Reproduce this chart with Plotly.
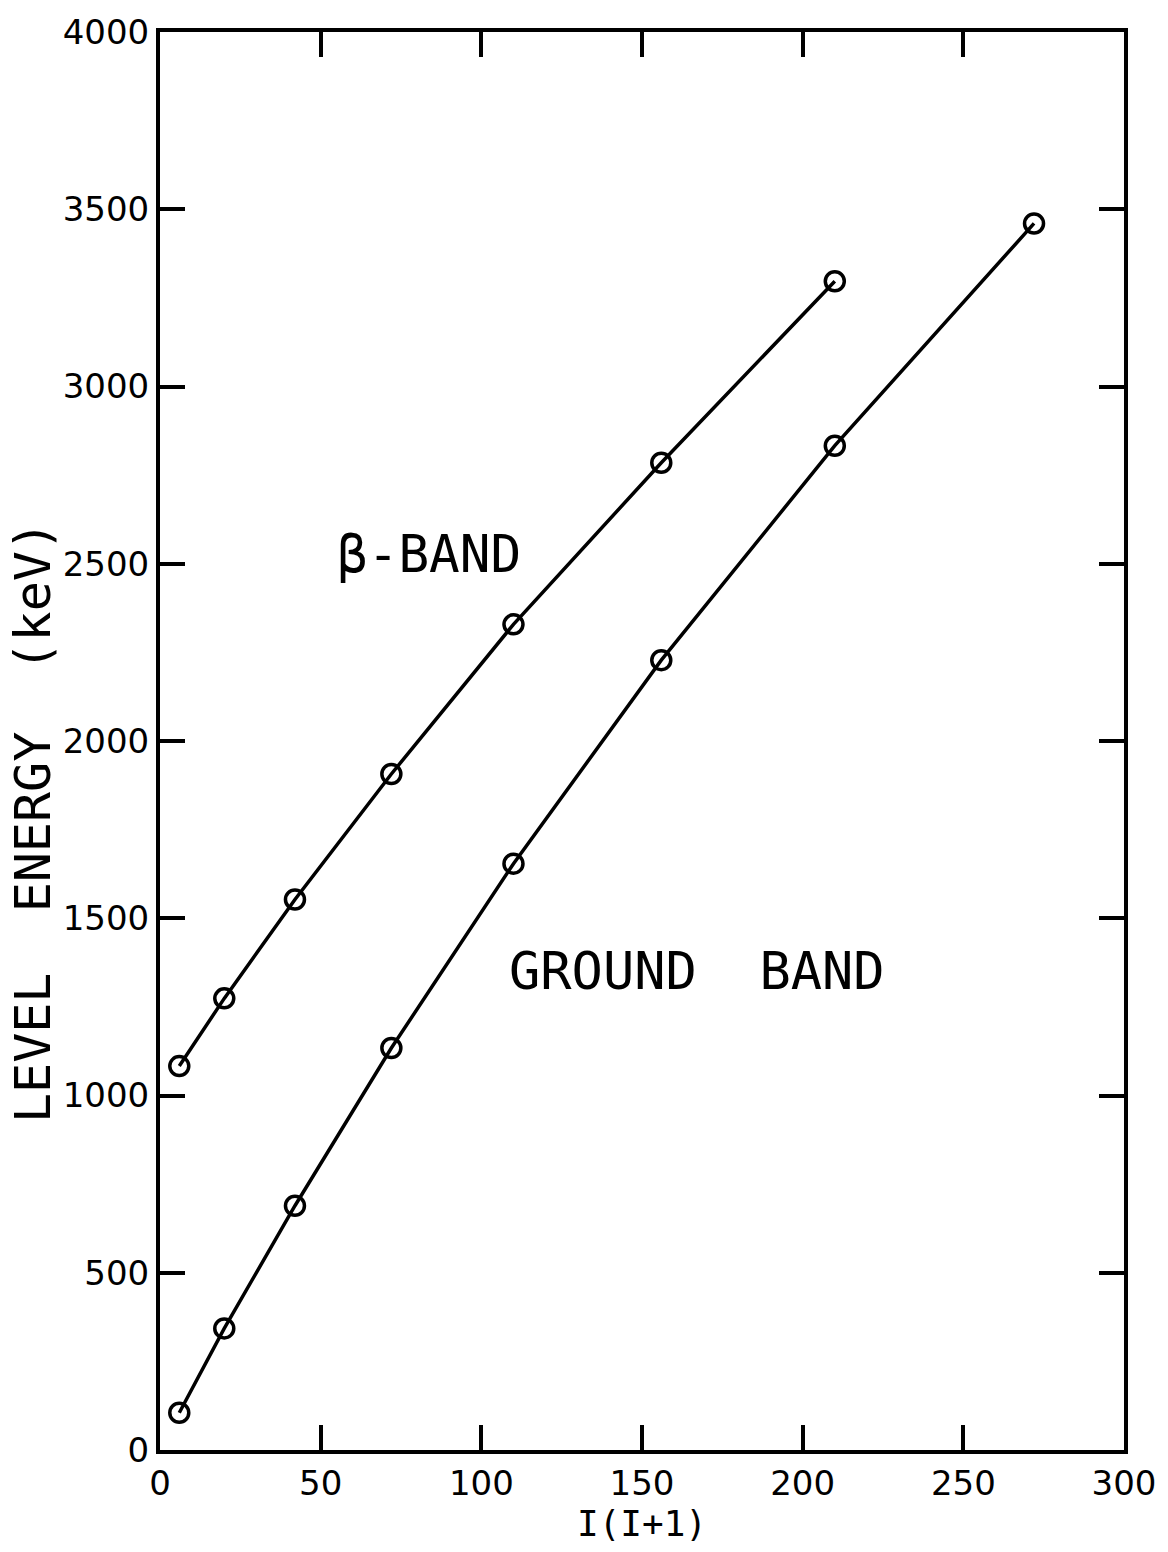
import plotly.graph_objects as go

# I(I+1) values for even spins 2..16
spin_x_ground = [6, 20, 42, 72, 110, 156, 210, 272]
energy_ground = [105, 343, 689, 1134, 1654, 2228, 2833, 3460]

spin_x_beta = [6, 20, 42, 72, 110, 156, 210]
energy_beta = [1083, 1274, 1553, 1907, 2329, 2785, 3297]

x_ticks = [0, 50, 100, 150, 200, 250, 300]
y_ticks = [0, 500, 1000, 1500, 2000, 2500, 3000, 3500, 4000]

FONT = "DejaVu Sans"
MONO = "DejaVu Sans Mono"

fig = go.Figure()
marker = dict(symbol="circle-open", size=19, color="black", line=dict(width=3.5, color="black"))
fig.add_trace(go.Scatter(x=spin_x_beta, y=energy_beta, mode="lines+markers",
                         line=dict(color="black", width=3.5), marker=marker,
                         name="β-BAND", showlegend=False))
fig.add_trace(go.Scatter(x=spin_x_ground, y=energy_ground, mode="lines+markers",
                         line=dict(color="black", width=3.5), marker=marker,
                         name="GROUND BAND", showlegend=False))

fig.add_annotation(text="β-BAND", x=0.2795, y=0.6315, xref="paper", yref="paper",
                   xanchor="center", yanchor="middle",
                   showarrow=False, font=dict(family=MONO, size=51, color="black"))
fig.add_annotation(text="GROUND  BAND", x=0.557, y=0.3376, xref="paper", yref="paper",
                   xanchor="center", yanchor="middle",
                   showarrow=False, font=dict(family=MONO, size=52, color="black"))
# y-axis title, placed as in the original (below the plot's vertical centre)
fig.add_annotation(text="LEVEL  ENERGY  (keV)", x=-0.1315, y=0.443, xref="paper", yref="paper",
                   xanchor="center", yanchor="middle", textangle=-90,
                   showarrow=False, font=dict(family=MONO, size=50, color="black"))

axis_common = dict(showline=True, linecolor="black", linewidth=4, mirror="ticks",
                   ticks="inside", ticklen=25, tickwidth=3.5, tickcolor="black",
                   showgrid=False, zeroline=False,
                   tickfont=dict(family=FONT, size=34, color="black"))

fig.update_xaxes(range=[0, 300], tickvals=x_ticks, ticktext=[str(v) for v in x_ticks],
                 title=dict(text="I(I+1)", font=dict(family=MONO, size=36, color="black"), standoff=10),
                 **axis_common)
fig.update_yaxes(range=[0, 4000], tickvals=y_ticks, ticktext=[str(v) for v in y_ticks],
                 **axis_common)

fig.update_layout(width=1168, height=1552, plot_bgcolor="white", paper_bgcolor="white",
                  margin=dict(l=160, r=42, t=28, b=102))

fig.write_html("out.html")
